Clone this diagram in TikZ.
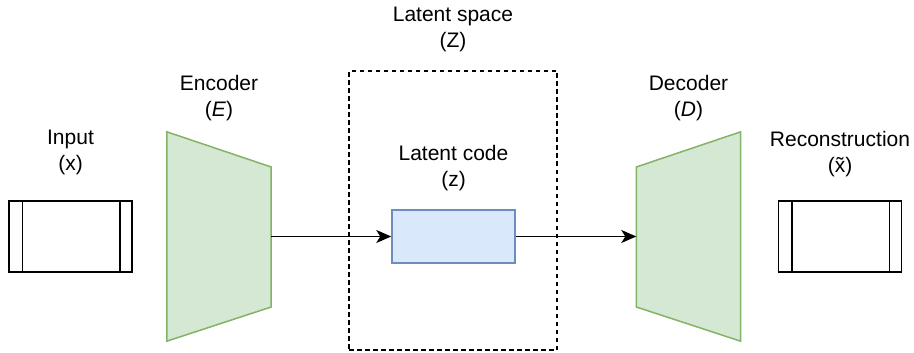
\documentclass[tikz,border=0pt]{standalone}
\usepackage{fontspec}
\setmainfont{Liberation Sans}
\usetikzlibrary{arrows.meta}
\definecolor{encfill}{HTML}{D5E8D4}
\definecolor{encline}{HTML}{82B366}
\definecolor{codefill}{HTML}{DAE8FC}
\definecolor{codeline}{HTML}{6C8EBF}
\tikzset{
  lbl/.style={align=center, anchor=base, inner sep=0pt,
    font=\fontsize{21pt}{26pt}\selectfont},
  databox/.style={draw, line width=1.5pt, minimum width=123pt, minimum height=71pt, inner sep=0pt},
  netbox/.style={minimum width=104pt, minimum height=209pt, inner sep=0pt},
  netshape/.style={fill=encfill, draw=encline, line width=1.5pt, line join=miter},
  codebox/.style={draw=codeline, fill=codefill, line width=1.5pt, minimum width=123pt, minimum height=53pt, inner sep=0pt},
  spacebox/.style={draw, line width=1.5pt, dash pattern=on 4.5pt off 3.5pt, minimum width=208pt, minimum height=279pt, inner sep=0pt},
  flow/.style={line width=1.5pt, -{Stealth[length=15pt, width=13pt, inset=4pt]}},
}
\begin{document}
\begin{tikzpicture}[x=1pt, y=-1pt]
  \useasboundingbox (0,0) rectangle (914,353);

  % latent space region
  \node[spacebox] (space) at (453,210.5) {};
  \node[lbl] (spacelbl) at (453,48) {Latent space\\(Z)};

  % input data
  \node[databox] (input) at (70.5,236.5) {};
  \draw[line width=1.5pt] ([xshift=14pt]input.north west) -- ([xshift=14pt]input.south west)
    ([xshift=-13pt]input.north east) -- ([xshift=-13pt]input.south east);
  \node[lbl] (inputlbl) at (70.5,170) {Input\\(x)};

  % encoder
  \node[netbox] (enc) at (219,236.5) {};
  \draw[netshape] (enc.north west) -- (enc.east |- 0,167) -- (enc.east |- 0,307)
    -- (enc.south west) -- cycle;
  \node[lbl] (enclbl) at (219,117) {Encoder\\(\textit{E})};

  % latent code
  \node[codebox] (code) at (453.5,236.5) {};
  \node[lbl] (codelbl) at (453.5,186) {Latent code\\(z)};

  % decoder
  \node[netbox] (dec) at (688.5,236.5) {};
  \draw[netshape] (dec.west |- 0,167) -- (dec.north east) -- (dec.south east)
    -- (dec.west |- 0,307) -- cycle;
  \node[lbl] (declbl) at (688.5,117) {Decoder\\(\textit{D})};

  % reconstruction
  \node[databox] (recon) at (840,236.5) {};
  \draw[line width=1.5pt] ([xshift=14pt]recon.north west) -- ([xshift=14pt]recon.south west)
    ([xshift=-13pt]recon.north east) -- ([xshift=-13pt]recon.south east);
  \node[lbl] (reconlbl) at (840,172) {Reconstruction\\(\~{x})};

  % data flow
  \draw[flow] (enc.east) -- (code.west);
  \draw[flow] (code.east) -- (dec.west);
\end{tikzpicture}
\end{document}
